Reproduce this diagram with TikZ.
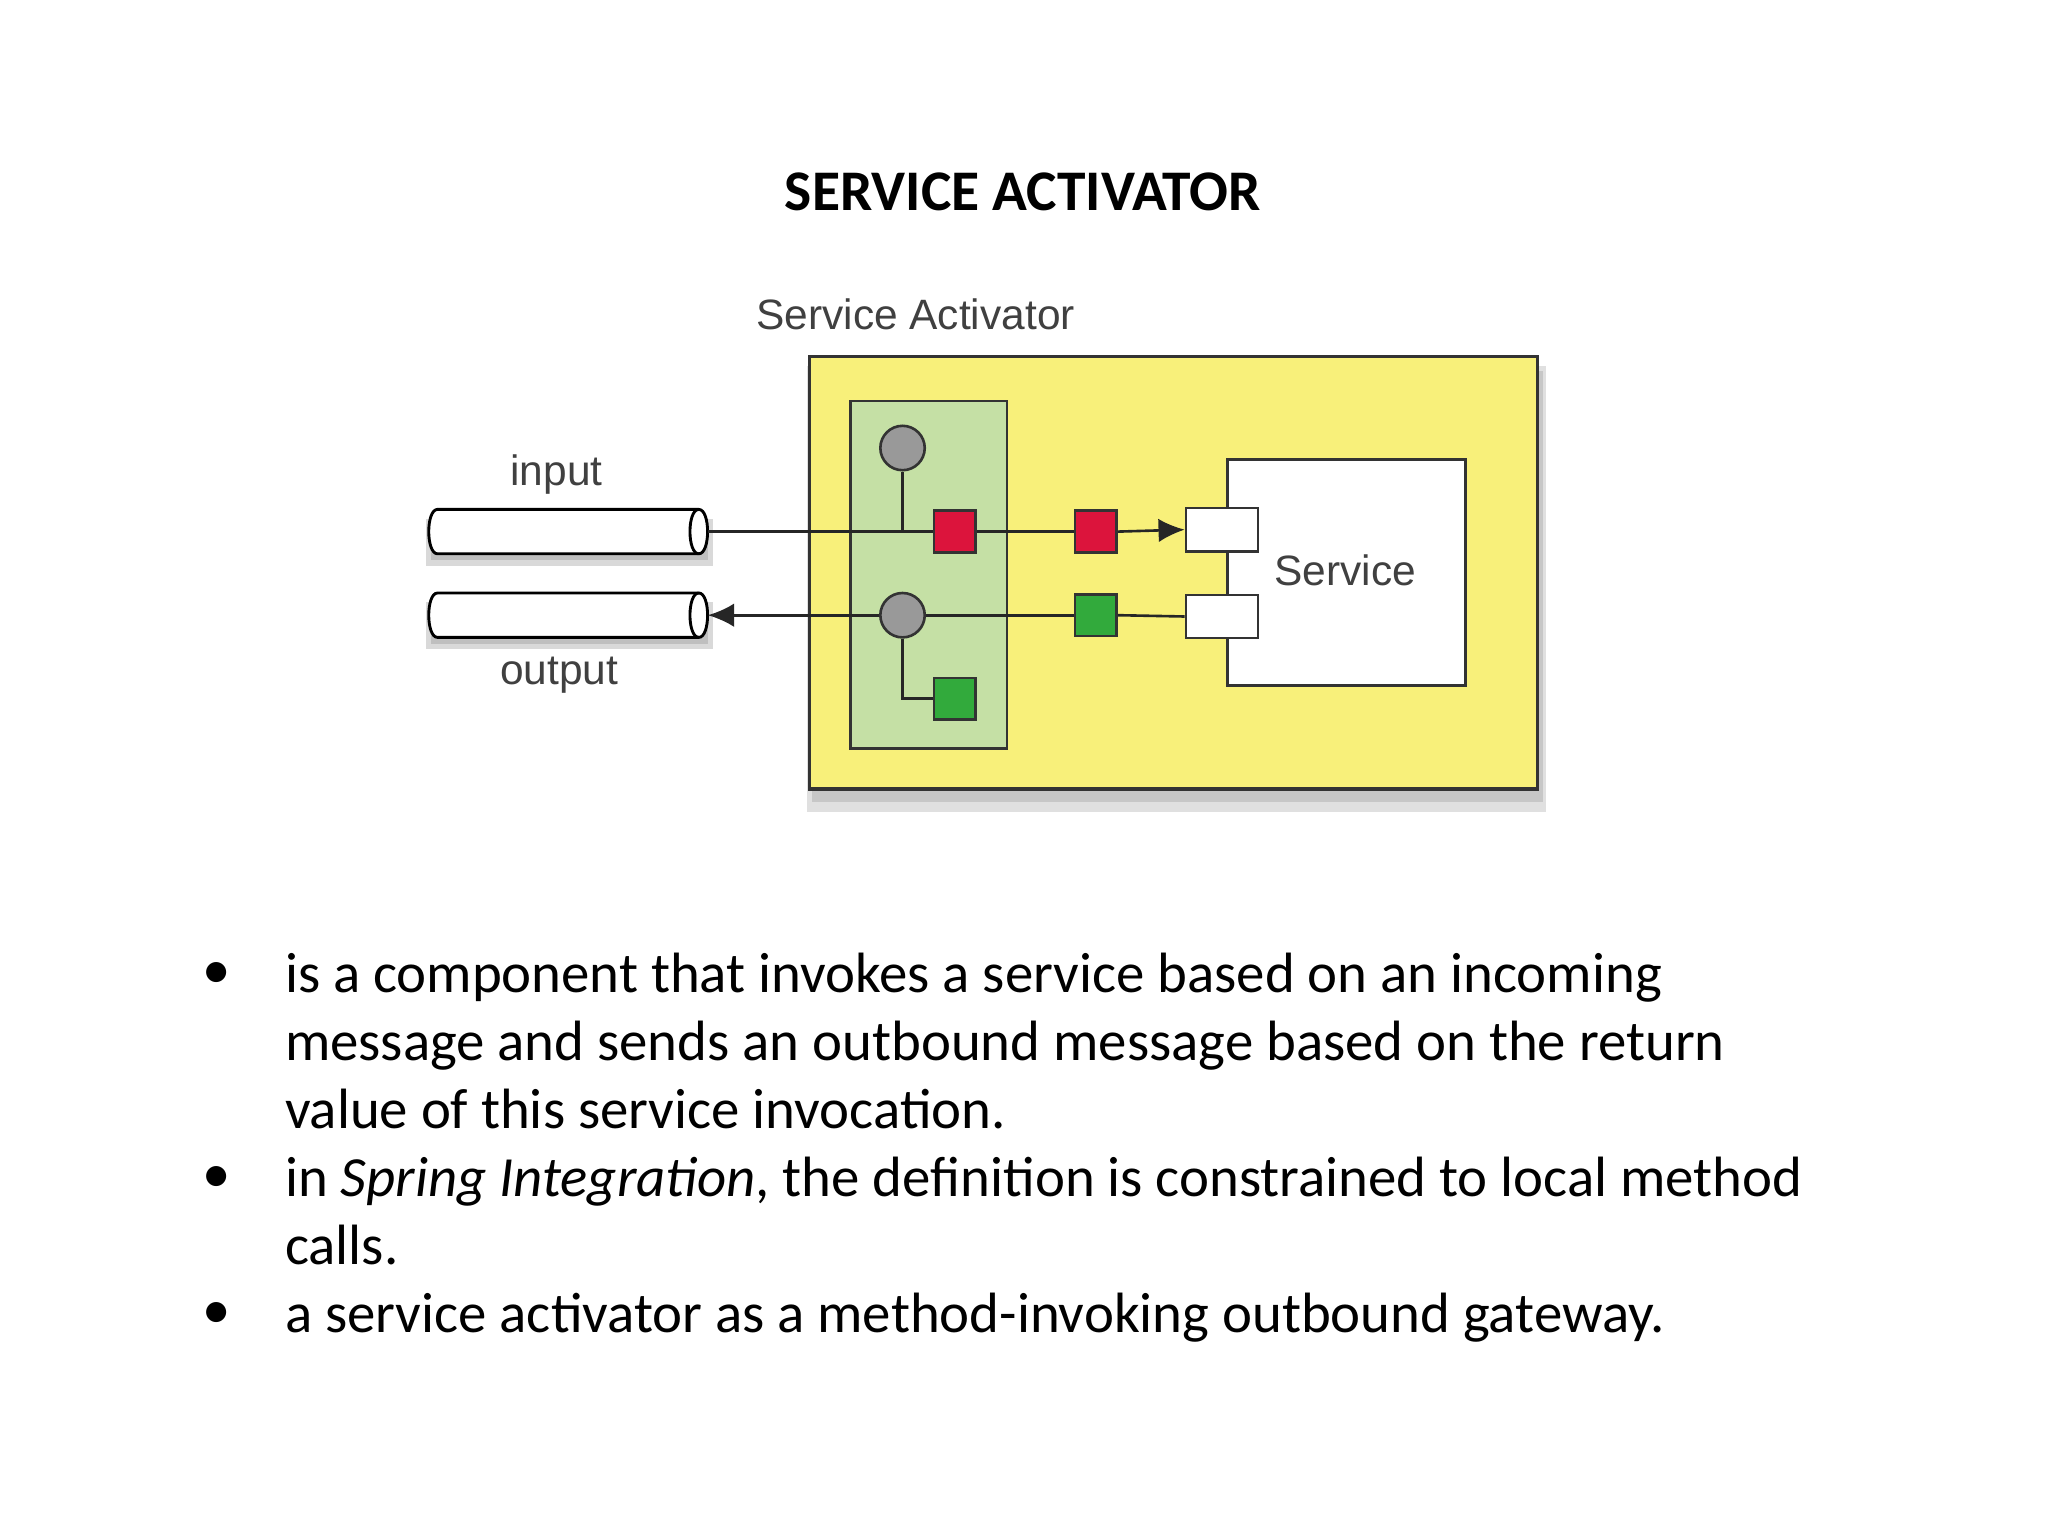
\documentclass[tikz,border=0pt]{standalone}
\usepackage{fontspec}
\setmainfont{Carlito}
\newfontfamily\arialf{Liberation Sans}
\usetikzlibrary{arrows.meta}
\begin{document}
\begin{tikzpicture}[x=1pt,y=-1pt,
  sq/.style={draw=black!80,line width=2pt,minimum size=32pt,inner sep=0pt},
  circ/.style={circle,draw=black!80,fill=gray!80,line width=2pt,minimum size=34pt,inner sep=0pt},
  port/.style={draw=black!80,fill=white,line width=2pt,minimum width=55pt,minimum height=33pt,inner sep=0pt},
  ln/.style={line width=2pt,black!85},
  lab/.style={font=\arialf\fontsize{32.5}{32.5}\selectfont,text=black!75},
  body/.style={font=\fontsize{43.5}{52}\selectfont,anchor=base west,inner sep=0pt}]
\useasboundingbox (0,0) rectangle (1568,1176);
\fill[white] (0,0) rectangle (1568,1176);
\node[font=\bfseries\fontsize{44}{44}\selectfont] (title) at (783,147) {SERVICE ACTIVATOR};
\node[lab] (salab) at (701,241) {Service Activator};
% yellow box with shadow
\fill[black!12] (618,280) rectangle (1184,622);
\fill[black!22] (622,284) rectangle (1181,614);
\node[draw=black!80,line width=2.5pt,fill={rgb,255:red,248;green,240;blue,122},minimum width=557pt,minimum height=331pt,inner sep=0pt] (sa) at (898.5,438.5) {};
\node[draw=black!80,line width=2pt,fill={rgb,255:red,197;green,224;blue,165},minimum width=120pt,minimum height=266pt,inner sep=0pt] (gb) at (711,440) {};
\node[draw=black!80,line width=2pt,fill=white,minimum width=182pt,minimum height=173pt,inner sep=0pt] (svc) at (1031,438.5) {};
\node[lab] (svclab) at (1030,437) {Service};
\node[port] (p1) at (935.5,405.5) {};
\node[port] (p2) at (935.5,472) {};
% cylinders
\foreach \n/\y in {cin/407,cout/471}{
  \fill[black!15] (326,\y-10) rectangle (546,\y+26);
  \fill[black!25] (330,\y-5) rectangle (542,\y+22);
  \draw[line width=2.2pt,fill=white] (335,\y-17) -- (535,\y-17)
     .. controls (544,\y-17) and (544,\y+17) .. (535,\y+17) -- (335,\y+17)
     .. controls (326,\y+17) and (326,\y-17) .. (335,\y-17) -- cycle;
  \draw[line width=2.2pt] (535,\y-17) .. controls (526,\y-17) and (526,\y+17) .. (535,\y+17);
  \coordinate (\n) at (542,\y);
}
\node[lab] (inlab) at (426,363) {input};
\node[lab] (outlab) at (428,517) {output};
\node[circ] (c1) at (691,343) {};
\node[circ] (c2) at (691,471) {};
\node[sq,fill={rgb,255:red,220;green,20;blue,60}] (r1) at (731,407) {};
\node[sq,fill={rgb,255:red,220;green,20;blue,60}] (r2) at (839,407) {};
\node[sq,fill={rgb,255:red,50;green,170;blue,60}] (g1) at (839,471) {};
\node[sq,fill={rgb,255:red,50;green,170;blue,60}] (g2) at (731,535) {};
% connectors
\draw[ln] (cin) -- (r1.west);
\draw[ln] (c1.south) |- (r1.west);
\draw[ln] (r1.east) -- (r2.west);
\draw[ln,-{Latex[length=20pt,width=18pt]}] (r2.east) -- (p1.west);
\draw[ln] (p2.west) -- (g1.east);
\draw[ln] (g1.west) -- (c2.east);
\draw[ln,-{Latex[length=20pt,width=18pt]}] (c2.west) -- (cout);
\draw[ln] (c2.south) |- (g2.west);
% bullets
\foreach \y in {747,903,1007}{\node[body,anchor=center] at (166,\y) {•};}
\node[body] (b1) at (218,760) {is a component that invokes a service based on an incoming};
\node[body] (b1b) at (218,812) {message and sends an outbound message based on the return};
\node[body] (b1c) at (218,864) {value of this service invocation.};
\node[body] (b2) at (218,916) {in \textit{Spring Integration}, the definition is constrained to local method};
\node[body] (b2b) at (218,968) {calls.};
\node[body] (b3) at (218,1020) {a service activator as a method-invoking outbound gateway.};
\end{tikzpicture}
\end{document}
